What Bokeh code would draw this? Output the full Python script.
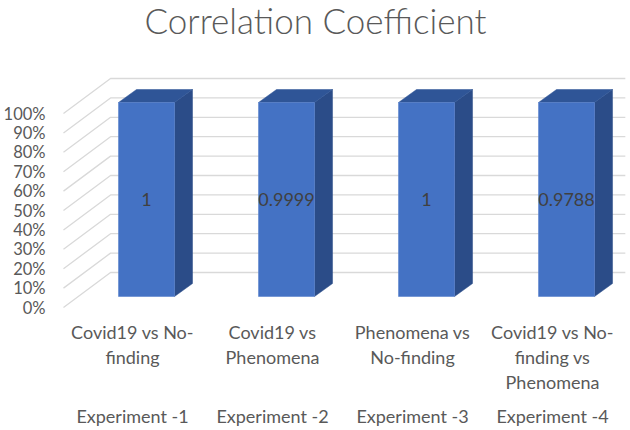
from bokeh.plotting import figure
from bokeh.models import Range1d
from bokeh.core.properties import value
from bokeh.embed import file_html
from bokeh.resources import INLINE

# ---------------- data ----------------
title_text = "Correlation Coefficient"
experiments = ["Experiment -1", "Experiment -2", "Experiment -3", "Experiment -4"]
comparisons = [
    ["Covid19 vs No-", "finding"],
    ["Covid19 vs", "Phenomena"],
    ["Phenomena vs", "No-finding"],
    ["Covid19 vs No-", "finding vs", "Phenomena"],
]
coefficients = [1, 0.9999, 1, 0.9788]
bar_share = [1.0, 1.0, 1.0, 1.0]          # 100% stacked column heights
y_ticks = [0.0, 0.1, 0.2, 0.3, 0.4, 0.5, 0.6, 0.7, 0.8, 0.9, 1.0]
y_tick_labels = ["0%", "10%", "20%", "30%", "40%", "50%", "60%", "70%", "80%", "90%", "100%"]

# ---------------- style / layout ----------------
FONT = value("Lato")
TITLE_FONT = value("Lato Light, Lato")
FRONT = "#4472C4"
SIDE = "#2B4C88"
TOP = "#2F5597"
GRID = "#D9D9D9"
TXT = "#595959"

BAR_SHIFT = 0.10      # bar front face offset from category position (depth)
BAR_W = 0.40
DEPTH_X = 0.1286
DEPTH_Y = 0.067
BASE_Y = 0.0567
WALL_X0 = 0.507
WALL_DX = 0.336
WALL_DY = 0.1804
WALL_X1 = 4.52

p = figure(width=630, height=430, output_backend="svg", toolbar_location=None,
           x_range=Range1d(0.0571, 4.557), y_range=Range1d(-0.634, 1.5825),
           min_border=0, x_axis_location=None, y_axis_location=None,
           outline_line_color=None)
p.grid.visible = False
p.background_fill_color = "white"
p.border_fill_color = "white"

# gridlines: side wall diagonal + back wall horizontal
gxs, gys = [], []
for t in y_ticks:
    gxs.append([WALL_X0, WALL_X0 + WALL_DX, WALL_X1])
    gys.append([t, t + WALL_DY, t + WALL_DY])
p.multi_line(gxs, gys, line_color=GRID, line_width=1.3)

# bars
cats = list(range(1, len(experiments) + 1))
left = [c + BAR_SHIFT - BAR_W / 2 for c in cats]
right = [c + BAR_SHIFT + BAR_W / 2 for c in cats]
bottom = [BASE_Y for _ in cats]
top = [BASE_Y + h for h in bar_share]

side_xs = [[r, r + DEPTH_X, r + DEPTH_X, r] for r in right]
side_ys = [[b, b + DEPTH_Y, t + DEPTH_Y, t] for b, t in zip(bottom, top)]
top_xs = [[l, r, r + DEPTH_X, l + DEPTH_X] for l, r in zip(left, right)]
top_ys = [[t, t, t + DEPTH_Y, t + DEPTH_Y] for t in top]
p.patches(side_xs, side_ys, fill_color=SIDE, line_color=SIDE, line_width=0.5)
p.patches(top_xs, top_ys, fill_color=TOP, line_color=TOP, line_width=0.5)
p.quad(left=left, right=right, bottom=bottom, top=top, fill_color=FRONT,
       line_color="#5B83CC", line_width=0.6)

# value labels
p.text(x=[c + BAR_SHIFT for c in cats], y=[(b + t) / 2 for b, t in zip(bottom, top)],
       text=[f"{v:g}" for v in coefficients], text_font=FONT, text_font_size="18px",
       text_color="#404040", text_align="center", text_baseline="middle")

# y tick labels
p.text(x=[0.3786] * len(y_ticks), y=y_ticks, text=y_tick_labels, text_font=FONT,
       text_font_size="16.5px", text_color=TXT, text_align="right", text_baseline="middle")

# category labels (multi-line)
LINE1_Y = -0.1263
LINE_STEP = 0.1289
lx, ly, lt = [], [], []
for c, lines in zip(cats, comparisons):
    for j, s in enumerate(lines):
        lx.append(c)
        ly.append(LINE1_Y - j * LINE_STEP)
        lt.append(s)
p.text(x=lx, y=ly, text=lt, text_font=FONT, text_font_size="18px", text_color=TXT,
       text_align="center", text_baseline="middle")

# experiment labels
p.text(x=cats, y=[-0.5593] * len(cats), text=experiments, text_font=FONT,
       text_font_size="18px", text_color=TXT, text_align="center", text_baseline="middle")

# title
p.text(x=[2.307], y=[1.4845], text=[title_text], text_font=TITLE_FONT, text_font_size="35px",
       text_color=TXT, text_align="center", text_baseline="middle")

open("out.html", "w").write(file_html(p, INLINE))
